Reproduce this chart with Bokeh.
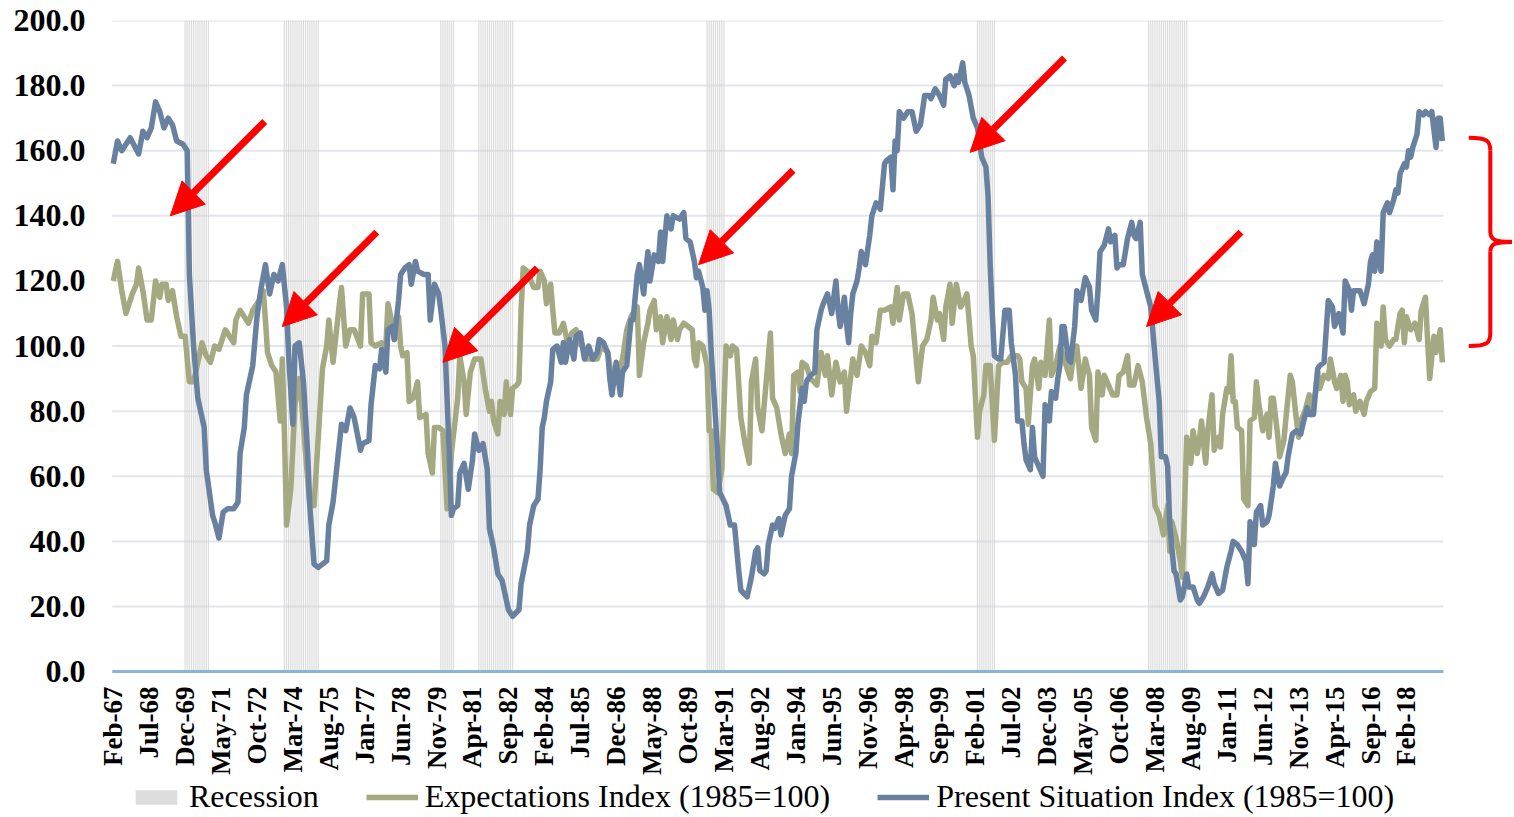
import math
from bokeh.plotting import figure
from bokeh.models import (Range1d, FixedTicker, NumeralTickFormatter, Legend, LegendItem,
                          Arrow, NormalHead)
from bokeh.core.properties import value
from bokeh.embed import file_html
from bokeh.resources import INLINE

# ---------------- data ----------------
# x positions are month offsets from Feb-1967 (0 = Feb-67)
tick_labels = ["Feb-67", "Jul-68", "Dec-69", "May-71", "Oct-72", "Mar-74", "Aug-75", "Jan-77",
               "Jun-78", "Nov-79", "Apr-81", "Sep-82", "Feb-84", "Jul-85", "Dec-86", "May-88",
               "Oct-89", "Mar-91", "Aug-92", "Jan-94", "Jun-95", "Nov-96", "Apr-98", "Sep-99",
               "Feb-01", "Jul-02", "Dec-03", "May-05", "Oct-06", "Mar-08", "Aug-09", "Jan-11",
               "Jun-12", "Nov-13", "Apr-15", "Sep-16", "Feb-18"]
tick_step = 17  # months between category labels

y_ticks = [0, 20, 40, 60, 80, 100, 120, 140, 160, 180, 200]

recessions = [("1969-12", "1970-11"), ("1973-11", "1975-03"), ("1980-01", "1980-07"),
              ("1981-07", "1982-11"), ("1990-07", "1991-03"), ("2001-03", "2001-11"),
              ("2007-12", "2009-06")]

psi_month = [0, 2, 4, 8, 12, 14, 16, 18, 20, 22, 24, 26, 28, 30, 33, 35, 36, 38, 40, 43, 44, 47, 48,
             50, 52, 54, 57, 59, 60, 62, 63, 66, 68, 70, 72, 74, 76, 78, 80, 82, 83, 85, 86, 88, 90,
             92, 93, 95, 97, 101, 102, 104, 106, 108, 110, 112, 114, 117, 118, 121, 122, 124, 126,
             127, 129, 130, 132, 133, 135, 136, 138, 140, 141, 143, 144, 147, 149, 150, 152, 154,
             155, 157, 159, 160, 161, 163, 164, 166, 168, 170, 171, 173, 175, 177, 178, 180, 182,
             184, 185, 187, 189, 192, 193, 196, 197, 199, 201, 202, 203, 204, 205, 207, 208, 210,
             212, 213, 214, 216, 218, 219, 221, 223, 225, 227, 229, 230, 232, 234, 235, 236, 238,
             240, 241, 243, 245, 246, 248, 249, 251, 253, 254, 256, 258, 259, 260, 262, 264, 265,
             268, 270, 271, 273, 275, 276, 277, 279, 280, 281, 282, 283, 285, 286, 287, 290, 292,
             294, 296, 297, 300, 302, 304, 305, 306, 308, 309, 310, 312, 313, 315, 316, 318, 320,
             321, 323, 324, 326, 327, 328, 330, 332, 333, 335, 336, 338, 340, 342, 343, 344, 346,
             347, 348, 349, 350, 352, 353, 354, 356, 358, 359, 361, 363, 365, 366, 368, 369, 370,
             371, 372, 374, 376, 378, 380, 382, 384, 386, 387, 389, 391, 393, 394, 396, 398, 399,
             400, 402, 403, 405, 407, 409, 411, 413, 414, 415, 416, 417, 419, 420, 422, 424, 425,
             427, 428, 430, 431, 432, 434, 435, 436, 438, 440, 441, 443, 444, 446, 447, 448, 449,
             450, 452, 453, 455, 456, 458, 460, 462, 463, 465, 466, 467, 469, 471, 472, 474, 475,
             476, 478, 480, 482, 483, 484, 486, 487, 489, 491, 493, 495, 496, 498, 499, 500, 502,
             503, 505, 506, 508, 509, 511, 513, 514, 516, 518, 520, 521, 523, 525, 527, 529, 530,
             532, 534, 536, 537, 538, 540, 541, 543, 544, 546, 547, 549, 550, 552, 554, 555, 556,
             558, 560, 562, 563, 565, 566, 568, 570, 571, 573, 575, 577, 578, 580, 582, 583, 585,
             586, 587, 589, 590, 592, 594, 595, 596, 597, 598, 600, 601, 603, 604, 606, 607, 608,
             609, 611, 612, 613, 614, 615, 617, 618, 620, 621, 623, 624, 626, 627, 628, 629]
psi_value = [156, 163, 160, 164, 159, 166, 164, 167, 175, 172, 167, 170, 168, 163, 162, 160, 122, 100,
             84, 75, 62, 48, 46, 41, 49, 50, 50, 52, 67, 75, 85, 94, 109, 118, 125, 116, 122, 120,
             125, 112, 97, 76, 100, 101, 89, 67, 51, 33, 32, 34, 45, 52, 64, 76, 74, 81, 78, 68, 70,
             71, 82, 94, 93, 99, 92, 105, 106, 102, 114, 122, 124, 125, 119, 126, 123, 122, 122, 108,
             119, 116, 111, 100, 67, 48, 50, 51, 61, 64, 56, 65, 73, 68, 70, 62, 44, 38, 30, 28, 25,
             19, 17, 19, 27, 37, 45, 51, 53, 62, 75, 78, 83, 89, 99, 100, 95, 101, 95, 102, 96, 103,
             104, 96, 100, 96, 98, 102, 101, 98, 90, 85, 95, 85, 92, 94, 108, 108, 122, 125, 116,
             129, 120, 128, 126, 135, 126, 140, 136, 140, 139, 141, 133, 132, 126, 121, 123, 118,
             111, 117, 111, 98, 78, 67, 55, 51, 45, 45, 31, 25, 23, 29, 37, 38, 31, 30, 31, 39, 45,
             44, 47, 42, 48, 50, 60, 67, 76, 87, 83, 89, 91, 92, 105, 111, 113, 116, 110, 120, 111,
             106, 115, 107, 101, 110, 116, 120, 124, 129, 125, 134, 140, 144, 142, 156, 157, 158,
             148, 163, 160, 172, 170, 172, 172, 166, 168, 177, 177, 176, 179, 177, 174, 182, 183,
             180, 183, 181, 187, 181, 177, 170, 167, 158, 155, 146, 125, 110, 97, 96, 96, 111, 111,
             101, 91, 77, 77, 70, 65, 62, 75, 66, 63, 60, 82, 77, 86, 84, 90, 94, 106, 106, 96, 95,
             106, 117, 114, 121, 118, 111, 108, 117, 129, 131, 136, 132, 134, 124, 125, 125, 133,
             138, 134, 133, 138, 122, 117, 112, 97, 83, 66, 66, 63, 45, 31, 30, 22, 23, 30, 26, 26,
             22, 21, 23, 26, 30, 27, 24, 25, 32, 37, 40, 39, 37, 34, 27, 46, 39, 49, 51, 45, 46, 48,
             57, 64, 57, 60, 61, 66, 73, 74, 73, 76, 81, 79, 79, 93, 94, 95, 114, 112, 106, 110,
             104, 120, 117, 111, 117, 117, 117, 113, 119, 126, 128, 123, 132, 123, 141, 144, 141,
             145, 148, 147, 153, 156, 155, 160, 158, 161, 165, 172, 171, 172, 171, 172, 161, 170,
             170, 163]

exp_month = [0, 2, 4, 6, 9, 11, 12, 14, 16, 18, 20, 22, 23, 25, 26, 28, 30, 32, 34, 36, 38, 40, 42,
             44, 46, 48, 50, 53, 55, 57, 58, 60, 62, 64, 66, 69, 71, 72, 73, 75, 77, 79, 80, 81, 82,
             84, 86, 88, 89, 91, 93, 95, 97, 99, 101, 102, 104, 107, 108, 110, 112, 114, 117, 118,
             121, 122, 124, 127, 129, 130, 132, 133, 135, 136, 137, 139, 140, 142, 144, 145, 148,
             149, 151, 152, 154, 156, 158, 160, 163, 164, 166, 167, 169, 171, 173, 174, 176, 178,
             179, 180, 182, 183, 185, 186, 187, 188, 189, 191, 192, 193, 194, 196, 197, 199, 201,
             202, 204, 205, 207, 208, 209, 211, 213, 215, 217, 219, 220, 222, 224, 226, 229, 231,
             234, 236, 238, 241, 243, 245, 248, 249, 251, 253, 254, 256, 257, 259, 260, 262, 264,
             265, 267, 268, 270, 272, 274, 275, 276, 277, 279, 281, 282, 283, 284, 286, 288, 290,
             292, 293, 295, 297, 299, 301, 302, 304, 305, 307, 309, 311, 312, 314, 316, 318, 320,
             321, 322, 324, 325, 326, 328, 330, 333, 335, 337, 338, 340, 342, 344, 346, 347, 350,
             352, 354, 356, 358, 359, 361, 363, 365, 368, 369, 371, 372, 374, 376, 378, 381, 383,
             385, 387, 388, 390, 391, 393, 394, 396, 397, 399, 401, 402, 404, 406, 407, 409, 410,
             412, 413, 415, 417, 419, 421, 423, 425, 428, 429, 430, 432, 433, 435, 436, 438, 439,
             441, 443, 444, 446, 448, 450, 453, 454, 456, 458, 460, 462, 463, 465, 466, 468, 469,
             471, 473, 475, 476, 478, 480, 481, 483, 485, 487, 489, 491, 493, 495, 497, 499, 500,
             501, 503, 505, 506, 508, 510, 511, 513, 514, 515, 516, 517, 518, 520, 521, 523, 524,
             525, 527, 528, 529, 530, 531, 532, 534, 535, 537, 538, 540, 541, 542, 544, 546, 547,
             548, 549, 551, 552, 554, 555, 557, 558, 560, 561, 562, 564, 566, 567, 569, 570, 571,
             573, 575, 576, 578, 579, 581, 582, 583, 584, 585, 587, 588, 590, 592, 593, 595, 597,
             598, 600, 601, 602, 604, 606, 607, 609, 610, 611, 612, 614, 616, 618, 619, 621, 622,
             623, 625, 626, 628, 629]
exp_value = [120, 126, 117, 110, 116, 119, 124, 117, 108, 108, 120, 115, 119, 119, 114, 117, 109, 103,
             103, 89, 89, 95, 101, 97, 95, 100, 99, 105, 103, 101, 108, 111, 109, 107, 111, 114, 117,
             108, 98, 94, 92, 77, 96, 73, 45, 56, 82, 90, 84, 67, 51, 51, 72, 93, 100, 108, 95, 113,
             118, 100, 105, 105, 100, 116, 116, 101, 100, 101, 100, 113, 107, 102, 109, 100, 97, 98,
             83, 84, 89, 78, 79, 67, 61, 75, 75, 74, 50, 67, 84, 97, 89, 79, 92, 96, 96, 96, 87, 80,
             83, 77, 73, 83, 79, 89, 83, 79, 87, 88, 89, 111, 124, 123, 121, 118, 118, 123, 120, 113,
             119, 111, 104, 104, 107, 101, 104, 105, 101, 100, 96, 96, 96, 100, 98, 90, 89, 96, 105,
             109, 112, 91, 101, 107, 111, 114, 105, 109, 101, 109, 102, 108, 102, 105, 107, 106, 105,
             96, 94, 101, 100, 94, 74, 74, 56, 55, 62, 100, 97, 100, 99, 78, 70, 64, 89, 96, 81, 74,
             89, 104, 84, 81, 73, 67, 73, 67, 91, 92, 86, 95, 94, 90, 88, 98, 91, 97, 85, 95, 89, 92,
             80, 96, 91, 100, 98, 94, 103, 101, 111, 111, 112, 107, 118, 108, 116, 116, 110, 89, 100,
             102, 108, 115, 108, 110, 102, 112, 119, 107, 119, 112, 113, 116, 100, 97, 72, 80, 85,
             94, 94, 71, 94, 95, 95, 97, 97, 96, 89, 87, 76, 94, 96, 87, 95, 91, 108, 91, 94, 100,
             96, 90, 95, 100, 87, 96, 91, 75, 71, 92, 85, 91, 88, 85, 85, 91, 92, 97, 88, 88, 94,
             89, 78, 70, 51, 48, 42, 51, 37, 46, 41, 34, 29, 72, 64, 74, 67, 71, 77, 70, 64, 74, 85,
             68, 72, 69, 79, 87, 86, 97, 83, 83, 75, 74, 53, 51, 77, 78, 89, 83, 74, 79, 72, 84, 84,
             73, 66, 71, 78, 91, 89, 77, 72, 77, 80, 85, 79, 86, 92, 87, 91, 90, 96, 89, 87, 91, 83,
             91, 89, 82, 85, 80, 83, 79, 83, 86, 87, 107, 100, 112, 102, 100, 102, 102, 110, 111,
             101, 109, 105, 107, 102, 111, 115, 102, 90, 103, 98, 105, 95]

# annotation arrows: tip positions (month offset, index value)
arrow_tip_month = [27, 80, 156, 277, 405.5, 489]
arrow_tip_value = [140, 106, 95, 125, 159.5, 106]
arrow_len_month, arrow_len_value = 44.7, 29

# bracket beside the latest readings
brace_top, brace_bottom = 164, 100

# ---------------- helpers ----------------
def month_index(s):
    y, mo = map(int, s.split("-"))
    return (y - 1967) * 12 + (mo - 2)

rec_months = []
for a, b in recessions:
    rec_months.extend(range(month_index(a), month_index(b) + 1))

last_month = psi_month[-1]
x_lo, x_hi = -7.0, 662.2     # frame starts a little left of the first month so labels fit
axis_start = -0.5
y_lo, y_hi = -44.2, 200      # frame reaches down to hold the category labels and the key

GREEN = "#a4a981"
BLUE = "#6981a0"
RED = "#ff0000"
SERIF = "Liberation Serif"

p = figure(width=1512, height=815, output_backend="svg", toolbar_location=None,
           x_range=Range1d(x_lo, x_hi), y_range=Range1d(y_lo, y_hi), x_axis_location=None,
           min_border_left=98, min_border_right=0, min_border_top=20, min_border_bottom=0)
p.outline_line_color = None
p.background_fill_color = "white"
p.xgrid.visible = False
p.ygrid.visible = False

# gridlines (stop at the last data month, like the original)
p.segment(x0=[axis_start] * len(y_ticks), x1=[last_month + 0.5] * len(y_ticks), y0=y_ticks,
          y1=y_ticks, line_color="#e2e6eb", line_width=2)

rec = p.vbar(x=rec_months, width=0.6, top=200, bottom=0, fill_color="#d2d2d2", fill_alpha=0.75,
             line_color=None)

g = p.line(exp_month, exp_value, line_color=GREEN, line_width=5.5, line_join="round")
b = p.line(psi_month, psi_value, line_color=BLUE, line_width=5.5, line_join="round")

# category axis line and labels
p.segment(x0=[axis_start], x1=[last_month + 0.5], y0=[0], y1=[0], line_color="#8fb3d5",
          line_width=3)
xt = [i * tick_step for i in range(len(tick_labels))]
p.text(x=xt, y=[-4.6] * len(xt), text=tick_labels, angle=math.pi / 2,
       text_align="right", text_baseline="middle", text_font=value(SERIF),
       text_font_style="bold", text_font_size="27px", text_color="black")

for tm, tv in zip(arrow_tip_month, arrow_tip_value):
    p.add_layout(Arrow(end=NormalHead(size=33, fill_color=RED, line_color=RED, line_width=1),
                       x_start=tm + arrow_len_month, y_start=tv + arrow_len_value,
                       x_end=tm, y_end=tv, line_color=RED, line_width=7))

# curly bracket on the right
bx = 651.7
bmid = (brace_top + brace_bottom) / 2
p.bezier(x0=[bx - 10.2, bx, bx, bx], y0=[brace_top, bmid + 3, bmid - 3, brace_bottom + 4],
         x1=[bx, bx + 11, bx + 11, bx - 10.2], y1=[brace_top - 4, bmid, bmid, brace_bottom],
         cx0=[bx - 1.2, bx, bx, bx], cy0=[brace_top, bmid + 0.5, bmid - 0.5, brace_bottom + 1],
         cx1=[bx, bx + 2.5, bx + 2.5, bx - 1.2], cy1=[brace_top - 1, bmid, bmid, brace_bottom],
         line_color=RED, line_width=4)
p.segment(x0=[bx, bx], x1=[bx, bx], y0=[brace_top - 4, bmid - 3], y1=[bmid + 3, brace_bottom + 4],
          line_color=RED, line_width=4)

# value axis
p.yaxis.ticker = FixedTicker(ticks=y_ticks)
p.yaxis.formatter = NumeralTickFormatter(format="0.0")
p.yaxis.axis_line_color = None
p.yaxis.major_tick_line_color = None
p.yaxis.minor_tick_line_color = None
p.yaxis.major_label_standoff = 7
p.yaxis.major_label_text_font = SERIF
p.yaxis.major_label_text_font_style = "bold"
p.yaxis.major_label_text_font_size = "32px"
p.yaxis.major_label_text_color = "black"

legend = Legend(items=[LegendItem(label="Recession", renderers=[rec]),
                       LegendItem(label="Expectations Index (1985=100)", renderers=[g]),
                       LegendItem(label="Present Situation Index (1985=100)", renderers=[b])],
                orientation="horizontal", location=(32, 0),
                label_text_font=SERIF, label_text_font_size="32px",
                label_text_color="black", glyph_width=52, glyph_height=18, label_standoff=7,
                spacing=47, padding=0, margin=0, border_line_color=None,
                background_fill_alpha=0)
p.add_layout(legend)

open("out.html", "w").write(file_html(p, INLINE))
